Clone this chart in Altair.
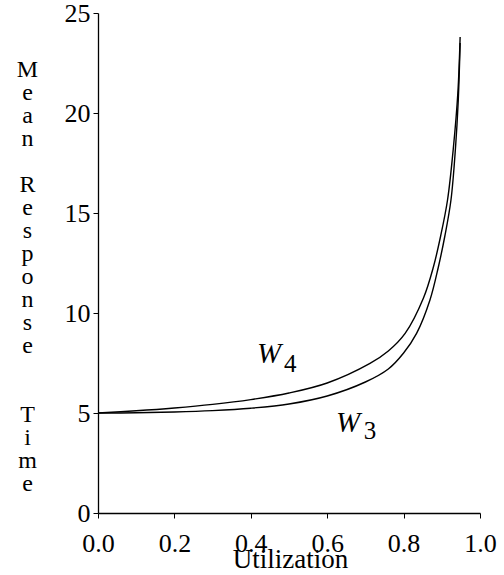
import altair as alt
import pandas as pd

# Utilization values and mean response times
rho_w4 = [0.0, 0.1, 0.2, 0.3, 0.4, 0.5, 0.6, 0.712, 0.76, 0.804, 0.852, 0.878, 0.897, 0.915, 0.93, 0.942, 0.948]
w4 = [5.0, 5.11, 5.25, 5.43, 5.67, 6.0, 6.5, 7.48, 8.1, 8.98, 10.75, 12.3, 13.85, 15.65, 18.2, 21.0, 23.8]

rho_w3 = [0.0, 0.1, 0.2, 0.3, 0.4, 0.5, 0.6, 0.7, 0.76, 0.8, 0.834, 0.869, 0.891, 0.908, 0.924, 0.936, 0.943, 0.948]
w3 = [5.0, 5.01, 5.05, 5.12, 5.24, 5.45, 5.85, 6.55, 7.2, 8.0, 8.98, 10.65, 12.3, 13.85, 15.65, 18.3, 20.6, 23.5]

x_ticks = [0.0, 0.2, 0.4, 0.6, 0.8, 1.0]
y_ticks = [0, 5, 10, 15, 20, 25]

BL = "\u200b"
y_title = ["M", "e", "a", "n", BL, "R", "e", "s", "p", "o", "n", "s", "e", BL, BL, "T", "i", "m", "e"]

# curve labels (W with subscript digit), in data coordinates
lab_main = ["W", "W"]
lab_main_x = [0.416, 0.623]
lab_main_y = [7.5, 4.05]
lab_sub = ["4", "3"]
lab_sub_x = [0.487, 0.696]
lab_sub_y = [7.05, 3.7]

FONT = "Liberation Serif"

df = pd.DataFrame({
    "rho": rho_w4 + rho_w3,
    "w": w4 + w3,
    "series": ["W4"] * len(w4) + ["W3"] * len(w3),
})
main_df = pd.DataFrame({"rho": lab_main_x, "w": lab_main_y, "t": lab_main})
sub_df = pd.DataFrame({"rho": lab_sub_x, "w": lab_sub_y, "t": lab_sub})

xscale = alt.Scale(domain=[0, 1], nice=False, zero=False)
yscale = alt.Scale(domain=[0, 25], nice=False)

lines = alt.Chart(df).mark_line(color="black", strokeWidth=1.4, interpolate="catmull-rom").encode(
    x=alt.X("rho:Q", scale=xscale, axis=alt.Axis(
        values=x_ticks, format=".1f", title="Utilization",
        titleX=192, titleY=54, titleAlign="center", titleBaseline="alphabetic",
        titleFont=FONT, titleFontSize=27, titleFontWeight="normal",
        labelFont=FONT, labelFontSize=26, labelPadding=12, labelFlush=False,
    )),
    y=alt.Y("w:Q", scale=yscale, axis=alt.Axis(
        values=y_ticks, format="d", title=y_title, titleAngle=0,
        titleX=-71, titleY=63, titleAlign="center", titleBaseline="alphabetic",
        titleFont=FONT, titleFontSize=24, titleLineHeight=23, titleFontWeight="normal",
        labelFont=FONT, labelFontSize=26, labelPadding=3, labelFlush=False,
    )),
    detail="series:N",
)

mains = alt.Chart(main_df).mark_text(
    font=FONT, fontStyle="italic", fontSize=29, align="left", baseline="alphabetic", color="black"
).encode(
    x=alt.X("rho:Q", scale=xscale),
    y=alt.Y("w:Q", scale=yscale),
    text="t:N",
)
subs = alt.Chart(sub_df).mark_text(
    font=FONT, fontSize=25, align="left", baseline="alphabetic", color="black"
).encode(
    x=alt.X("rho:Q", scale=xscale),
    y=alt.Y("w:Q", scale=yscale),
    text="t:N",
)

chart = alt.layer(lines, mains, subs).properties(
    width=382, height=500,
    padding={"left": 98, "top": 13, "right": 24, "bottom": 62},
    autosize=alt.AutoSizeParams(type="none"),
).configure_view(stroke=None).configure_axis(
    grid=False, domainColor="black", domainWidth=1.3, tickColor="black", tickWidth=1, tickSize=5,
    labelColor="black", titleColor="black",
)

chart.save("out.html", embed_options={"renderer": "svg", "actions": False})
